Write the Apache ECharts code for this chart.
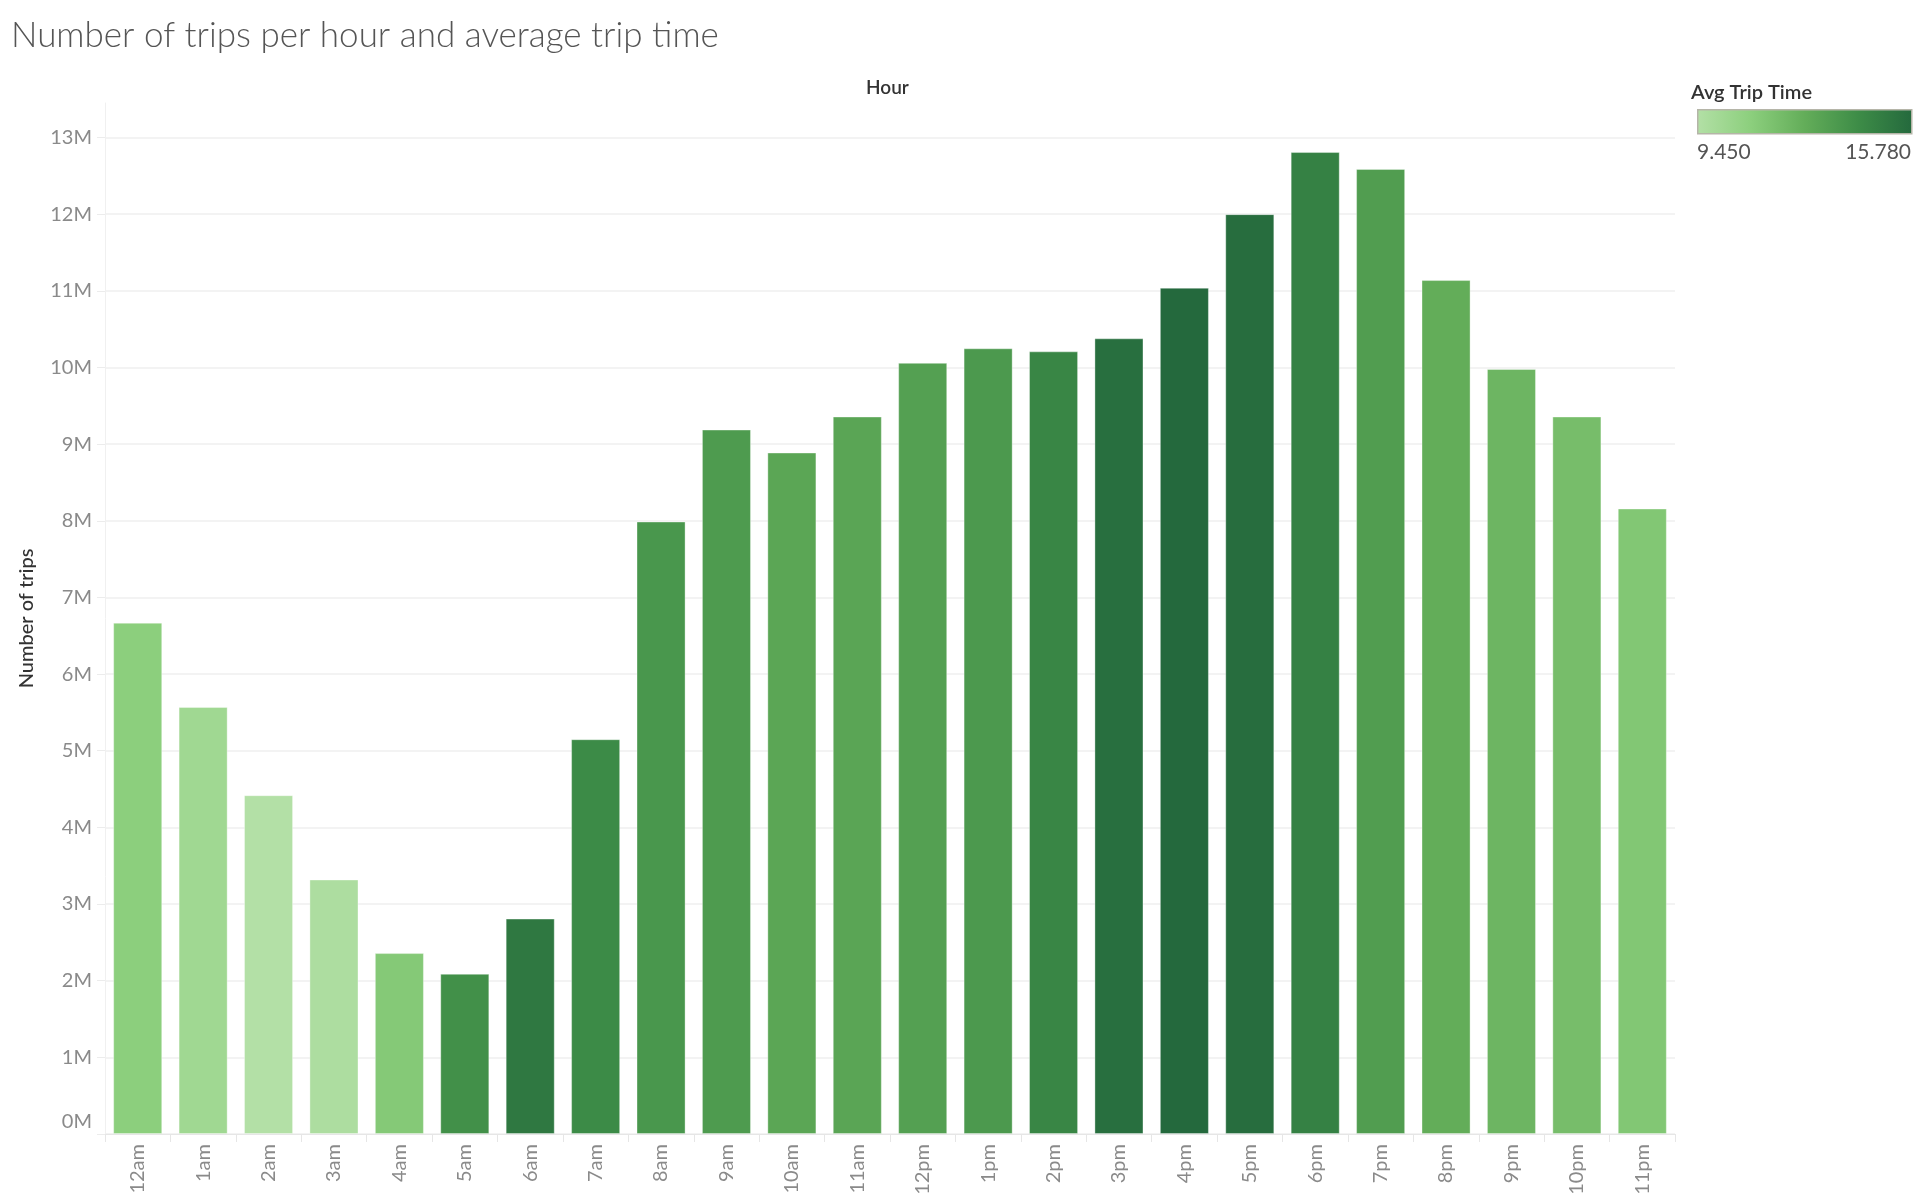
<!DOCTYPE html>
<html>
<head>
<meta charset="utf-8">
<script src="https://cdn.jsdelivr.net/npm/echarts@6/dist/echarts.min.js"></script>
<style>
html,body{margin:0;padding:0;background:#fff;}
#chart{width:1920px;height:1200px;}
</style>
</head>
<body>
<div id="chart"></div>
<script>
// ---- data ----
const hours = ['12am','1am','2am','3am','4am','5am','6am','7am','8am','9am','10am','11am',
               '12pm','1pm','2pm','3pm','4pm','5pm','6pm','7pm','8pm','9pm','10pm','11pm'];
const trips = [6.67, 5.57, 4.42, 3.32, 2.36, 2.09, 2.81, 5.15, 7.99, 9.19, 8.89, 9.36,
               10.06, 10.25, 10.21, 10.38, 11.04, 12.00, 12.81, 12.59, 11.14, 9.98, 9.36, 8.16]
               .map(v => v * 1e6);
const avgTripTime = [11.03, 10.21, 9.45, 9.70, 11.29, 14.00, 15.10, 14.26, 13.69, 13.50, 12.93, 12.99,
                     13.25, 13.56, 14.45, 15.53, 15.78, 15.60, 14.70, 13.37, 12.60, 12.24, 11.85, 11.41];
const avgMin = 9.45;
const avgMax = 15.78;
const greenStops = ['#b3e0a6', '#8ccf7d', '#63ad59', '#3d8c47', '#24693d'];

const source = hours.map((h, i) => [h, trips[i], avgTripTime[i]]);

const font = 'Lato';
const chart = echarts.init(document.getElementById('chart'));
chart.setOption({
  backgroundColor: '#ffffff',
  animation: false,
  title: {
    text: 'Number of trips per hour and average trip time',
    left: 6, top: 13,
    textStyle: { fontFamily: font, fontWeight: 300, fontSize: 35, color: '#555555' }
  },
  dataset: { source: source },
  grid: { left: 105, right: 245, top: 103, bottom: 66, outerBoundsMode: 'none', containLabel: false },
  xAxis: {
    type: 'category',
    axisLine: { show: true, lineStyle: { color: '#e6e6e6', width: 1 } },
    axisTick: { show: true, length: 8, alignWithLabel: false, lineStyle: { color: '#e6e6e6' } },
    axisLabel: { rotate: 90, color: '#8a8a8a', fontFamily: font, fontSize: 20, margin: 10 },
    splitLine: { show: false }
  },
  yAxis: {
    type: 'value',
    min: 0,
    max: 13.45e6,
    interval: 1e6,
    name: 'Number of trips',
    nameLocation: 'middle',
    nameGap: 68,
    nameTextStyle: { fontFamily: font, fontSize: 20, color: '#333333', fontWeight: 500 },
    axisLine: { show: true, lineStyle: { color: '#f0f0f0', width: 1 } },
    axisTick: { show: true, length: 8, lineStyle: { color: '#ececec' } },
    axisLabel: {
      showMaxLabel: false,
      color: '#8a8a8a', fontFamily: font, fontSize: 20, margin: 13,
      formatter: function (v) {
        const t = Math.round(v / 1e6) + 'M';
        return v === 0 ? '{z|' + t + '}' : t;
      },
      rich: { z: { color: '#8a8a8a', fontFamily: font, fontSize: 20, padding: [0, 0, 24, 0] } }
    },
    splitLine: { show: true, showMaxLine: false, lineStyle: { color: '#efefef', width: 1.5 } }
  },
  visualMap: {
    type: 'continuous',
    show: false,
    dimension: 2,
    min: avgMin,
    max: avgMax,
    inRange: { color: greenStops }
  },
  series: [{
    type: 'bar',
    encode: { x: 0, y: 1 },
    barCategoryGap: '25%',
    itemStyle: { borderColor: 'rgba(255,255,255,0.35)', borderWidth: 1 }
  }],
  graphic: [
    {
      type: 'text', left: 866, top: 78,
      style: { text: 'Hour', font: '600 19px ' + font, fill: '#333333' }
    },
    {
      type: 'text', left: 1691, top: 83,
      style: { text: 'Avg Trip Time', font: '600 20px ' + font, fill: '#333333' }
    },
    {
      type: 'rect', left: 1697, top: 109,
      shape: { width: 214, height: 24 },
      style: {
        fill: new echarts.graphic.LinearGradient(0, 0, 1, 0,
          greenStops.map((c, i) => ({ offset: i / (greenStops.length - 1), color: c }))),
        stroke: '#b5b5a8', lineWidth: 1.5
      }
    },
    {
      type: 'text', left: 1697, top: 142,
      style: { text: avgMin.toFixed(3), font: '21px ' + font, fill: '#555555' }
    },
    {
      type: 'text', right: 9, top: 142,
      style: { text: avgMax.toFixed(3), font: '21px ' + font, fill: '#555555', align: 'right' }
    }
  ]
});
</script>
</body>
</html>
